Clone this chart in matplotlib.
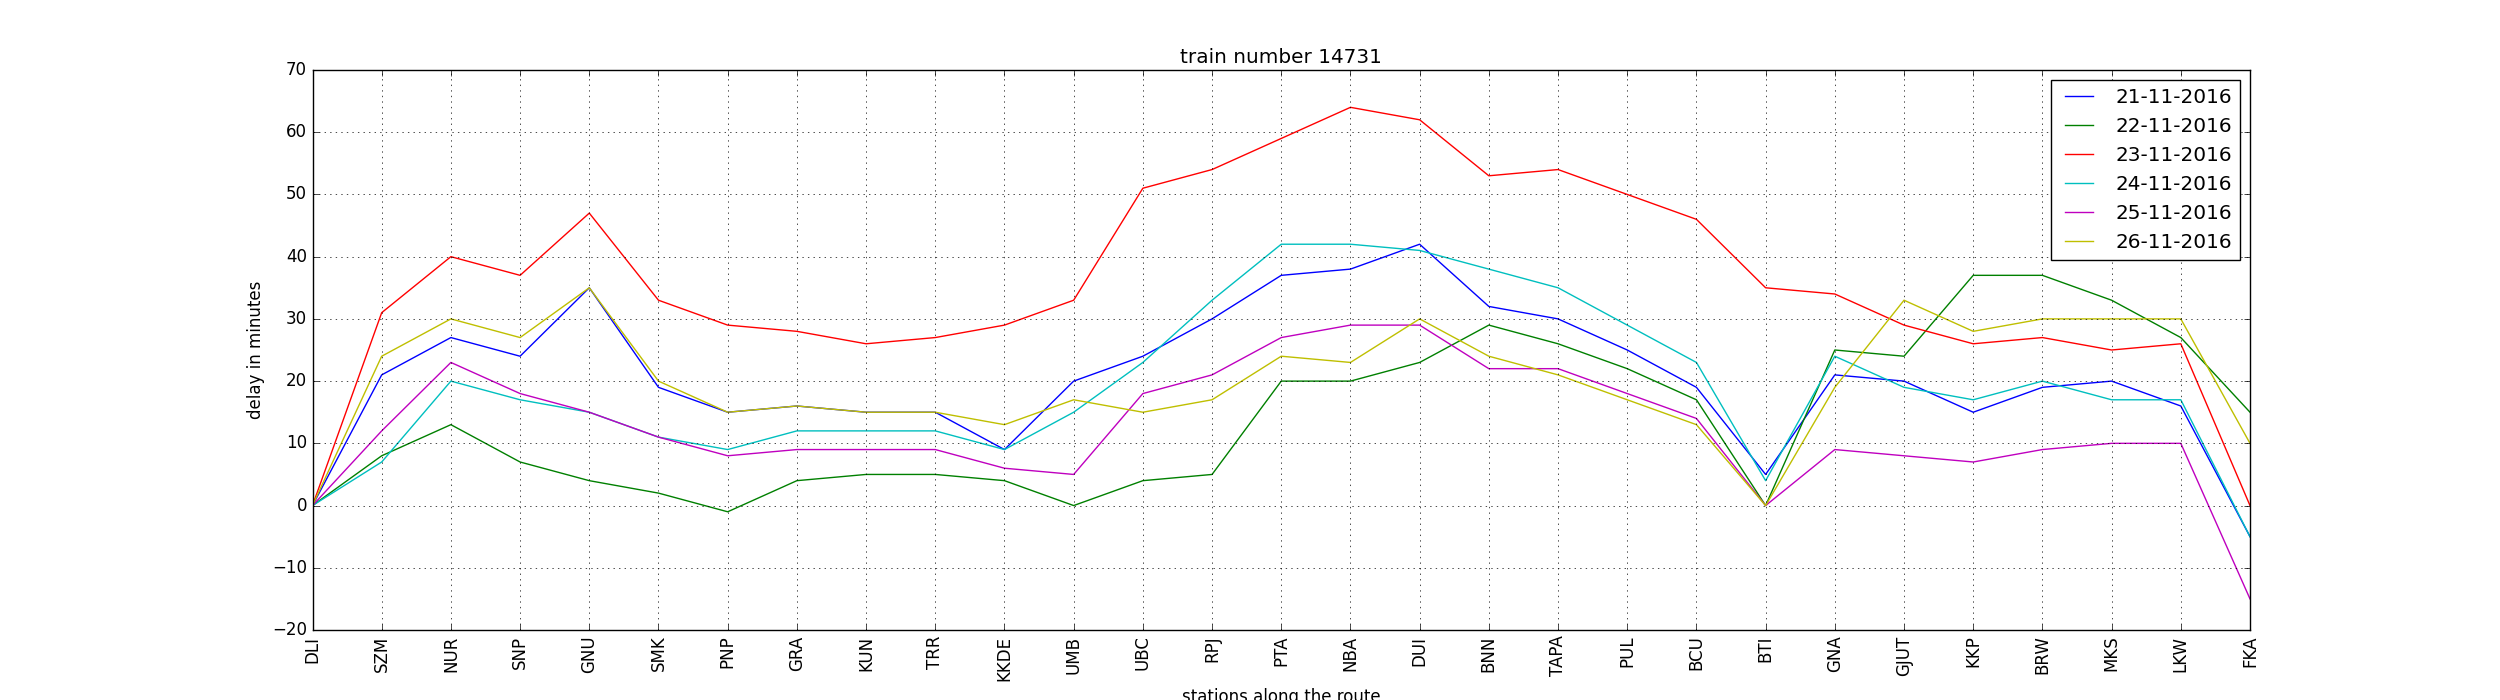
import matplotlib
matplotlib.use("Agg")
import matplotlib.pyplot as plt

plt.style.use("classic")

stations = ["DLI", "SZM", "NUR", "SNP", "GNU", "SMK", "PNP", "GRA", "KUN", "TRR",
            "KKDE", "UMB", "UBC", "RPJ", "PTA", "NBA", "DUI", "BNN", "TAPA", "PUL",
            "BCU", "BTI", "GNA", "GJUT", "KKP", "BRW", "MKS", "LKW", "FKA"]

d_21_11 = [0, 21, 27, 24, 35, 19, 15, 16, 15, 15, 9, 20, 24, 30, 37, 38, 42, 32, 30, 25,
           19, 5, 21, 20, 15, 19, 20, 16, -5]
d_22_11 = [0, 8, 13, 7, 4, 2, -1, 4, 5, 5, 4, 0, 4, 5, 20, 20, 23, 29, 26, 22,
           17, 0, 25, 24, 37, 37, 33, 27, 15]
d_23_11 = [0, 31, 40, 37, 47, 33, 29, 28, 26, 27, 29, 33, 51, 54, 59, 64, 62, 53, 54, 50,
           46, 35, 34, 29, 26, 27, 25, 26, 0]
d_24_11 = [0, 7, 20, 17, 15, 11, 9, 12, 12, 12, 9, 15, 23, 33, 42, 42, 41, 38, 35, 29,
           23, 4, 24, 19, 17, 20, 17, 17, -5]
d_25_11 = [0, 12, 23, 18, 15, 11, 8, 9, 9, 9, 6, 5, 18, 21, 27, 29, 29, 22, 22, 18,
           14, 0, 9, 8, 7, 9, 10, 10, -15]
d_26_11 = [0, 24, 30, 27, 35, 20, 15, 16, 15, 15, 13, 17, 15, 17, 24, 23, 30, 24, 21, 17,
           13, 0, 19, 33, 28, 30, 30, 30, 10]

dates = ["21-11-2016", "22-11-2016", "23-11-2016", "24-11-2016", "25-11-2016", "26-11-2016"]
series = [d_21_11, d_22_11, d_23_11, d_24_11, d_25_11, d_26_11]

fig, ax = plt.subplots(figsize=(25, 7), dpi=100)
x = list(range(len(stations)))
for label, values in zip(dates, series):
    ax.plot(x, values, label=label)

ax.set_xticks(x)
ax.set_xticklabels(stations, rotation="vertical")
ax.set_xlim(0, len(stations) - 1)
ax.set_ylim(-20, 70)
ax.grid(True)
ax.set_title("train number 14731")
ax.set_xlabel("stations along the route")
ax.set_ylabel("delay in minutes")
ax.legend(loc="upper right")

fig.savefig("out.png", dpi=100)
